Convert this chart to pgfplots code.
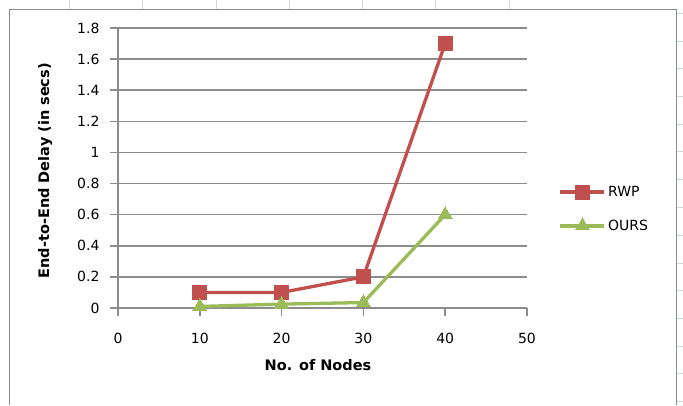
\documentclass[border=0pt]{standalone}
\usepackage{pgfplots}
\pgfplotsset{compat=1.18}
\usepackage{fontspec}
\setmainfont{DejaVu Sans}
\definecolor{rwp}{HTML}{C0504D}
\definecolor{ours}{HTML}{9BBB59}
\definecolor{gridgray}{HTML}{8C8C8C}
\definecolor{sheet}{HTML}{D0D7E5}
\begin{document}
\begin{tikzpicture}[x=1pt,y=1pt]
\path[use as bounding box] (0,0) rectangle (683,405);
% spreadsheet cell lines behind the chart
\foreach \xx in {69,142,216,289,362,435,509}
  \draw[sheet, line width=1pt] (\xx,405) -- (\xx,396);
\foreach \yy in {14,41.5,69,97,124.6,152,180,207.6,235.3,263,290.7,318,346,373.7,401.7}
  \draw[sheet, line width=1pt] (677,405-\yy) -- (683,405-\yy);
% chart border
\draw[gridgray, line width=1.3pt] (9.5,0) -- (9.5,395.5) -- (676.5,395.5) -- (676.5,0);

\begin{axis}[
    at={(118pt,97pt)}, anchor=origin,
    scale only axis,
    width=409pt, height=280pt,
    xmin=0, xmax=50, ymin=0, ymax=1.8,
    xtick={0,10,...,50},
    ytick={0,0.2,0.4,0.6,0.8,1,1.2,1.4,1.6,1.8},
    yticklabels={0,0.2,0.4,0.6,0.8,1,1.2,1.4,1.6,1.8},
    axis x line*=bottom, axis y line*=left,
    axis line style={gridgray, line width=1.5pt, -},
    tick style={gridgray, line width=1.5pt},
    tick align=outside,
    major tick length=8pt,
    ymajorgrids,
    grid style={gridgray, line width=1.5pt},
    tick label style={font=\fontsize{14}{16}\selectfont},
    /pgf/number format/assume math mode=true,
    xticklabel style={yshift=-14pt},
    yticklabel style={xshift=-7pt},
    label style={font=\fontsize{14.5}{16}\selectfont\bfseries},
    xlabel={No. of Nodes},
    xlabel style={at={(axis description cs:0.489,-0.204)}, anchor=center},
    ylabel={End-to-End Delay (in secs)},
    ylabel style={at={(axis description cs:-0.178,0.49)}, anchor=center},
    legend style={at={(1.07,0.45)}, anchor=north west, draw=none, fill=none,
        font=\fontsize{14}{16}\selectfont, row sep=18pt,
        /tikz/every even column/.append style={column sep=2pt}},
    legend cell align=left,
    legend image code/.code={
        \draw[mark repeat=2, mark phase=2] plot coordinates {(0pt,0pt) (22pt,0pt) (44pt,0pt)};
    },
]
\addplot[rwp, line width=3.3pt, mark=square*, mark size=7pt,
    mark options={solid, line width=0pt}]
    coordinates {(10,0.1) (20,0.1) (30,0.2) (40,1.7)};
\addlegendentry{RWP}
\addplot[ours, line width=3.3pt, mark=triangle*, mark size=8pt,
    mark options={solid, line width=0pt}]
    coordinates {(10,0.01) (20,0.025) (30,0.035) (40,0.6)};
\addlegendentry{OURS}
\end{axis}
\end{tikzpicture}
\end{document}
